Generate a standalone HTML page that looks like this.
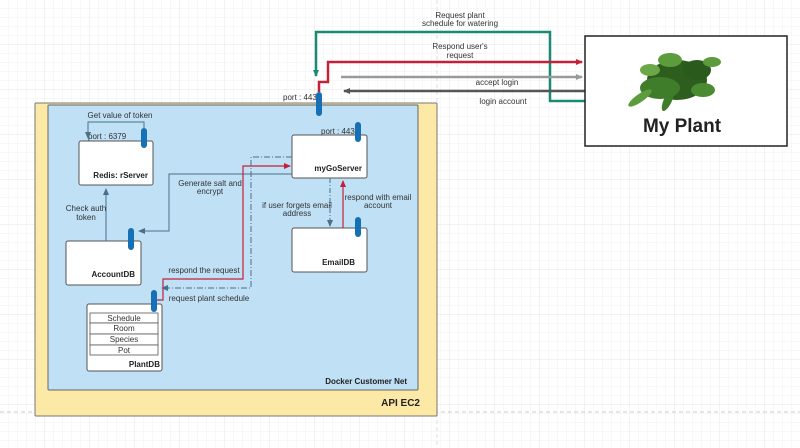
<!DOCTYPE html>
<html><head><meta charset="utf-8"><style>
html,body{margin:0;padding:0;background:#fff}
svg{display:block;font-family:"Liberation Sans",sans-serif}
.t{font-size:8px;fill:#333}
.b{font-size:8px;font-weight:bold;fill:#222}
</style></head><body>
<svg width="800" height="448" viewBox="0 0 800 448" xmlns="http://www.w3.org/2000/svg">
<defs>
<pattern id="g" width="9" height="9" patternUnits="userSpaceOnUse"><path d="M9 0V9H0" fill="none" stroke="#f2f2f2" stroke-width="1"/></pattern>
<pattern id="G" width="45" height="45" patternUnits="userSpaceOnUse"><path d="M45 0V45H0" fill="none" stroke="#e4e4e4" stroke-width="1"/></pattern>
<marker id="a" markerWidth="8" markerHeight="8" refX="6" refY="4" orient="auto" markerUnits="userSpaceOnUse"><path d="M0,1 L7,4 L0,7z" fill="context-stroke"/></marker>
</defs>
<rect width="800" height="448" fill="url(#g)"/>
<rect width="800" height="448" fill="url(#G)"/>
<line x1="0" y1="412" x2="800" y2="412" stroke="#ccc" stroke-dasharray="4,3"/>
<line x1="437" y1="0" x2="437" y2="448" stroke="#ddd" stroke-dasharray="4,3"/>

<rect x="35" y="103" width="402" height="313" fill="#fde9a6" stroke="#777" rx="1"/>
<rect x="48" y="105" width="370" height="285" fill="#bfe0f5" stroke="#666" rx="1"/>
<text x="420" y="406" class="b" text-anchor="end" style="font-size:10px">API EC2</text>
<text x="407" y="384" class="b" text-anchor="end">Docker Customer Net</text>

<rect x="79" y="141" width="74" height="44" fill="#fff" stroke="#555" rx="2"/>
<text x="148" y="178" class="b" text-anchor="end">Redis: rServer</text>
<text x="88" y="139" class="t">port : 6379</text>
<path d="M144,128 V122 H88 V138" fill="none" stroke="#4a6f86" stroke-width="1" marker-end="url(#a)"/>
<text x="120" y="118" class="t" text-anchor="middle">Get value of token</text>
<rect x="141" y="128" width="6" height="20" rx="3" fill="#1670b5"/>

<rect x="66" y="241" width="75" height="44" fill="#fff" stroke="#555" rx="2"/>
<text x="135" y="277" class="b" text-anchor="end">AccountDB</text>
<path d="M106,241 V189" fill="none" stroke="#4a6f86" stroke-width="1" marker-end="url(#a)"/>
<text x="86" y="211" class="t" text-anchor="middle">Check auth</text>
<text x="86" y="220" class="t" text-anchor="middle">token</text>
<rect x="128" y="228" width="6" height="22" rx="3" fill="#1670b5"/>

<rect x="292" y="135" width="75" height="43" fill="#fff" stroke="#555" rx="2"/>
<text x="362" y="171" class="b" text-anchor="end">myGoServer</text>
<text x="321" y="134" class="t">port : 443</text>
<rect x="355" y="122" width="6" height="20" rx="3" fill="#1670b5"/>
<path d="M292,174 H169 V231 H139" fill="none" stroke="#4a6f86" stroke-width="1" marker-end="url(#a)"/>
<text x="210" y="186" class="t" text-anchor="middle">Generate salt and</text>
<text x="210" y="194" class="t" text-anchor="middle">encrypt</text>

<rect x="292" y="228" width="75" height="44" fill="#fff" stroke="#555" rx="2"/>
<text x="355" y="265" class="b" text-anchor="end">EmailDB</text>
<rect x="355" y="217" width="6" height="20" rx="3" fill="#1670b5"/>
<path d="M330,178 V226" fill="none" stroke="#4a6f86" stroke-dasharray="5,2,1,2" marker-end="url(#a)"/>
<path d="M343,228 V181" fill="none" stroke="#c3213a" stroke-width="1.2" marker-end="url(#a)"/>
<text x="297" y="208" class="t" text-anchor="middle">if user forgets email</text>
<text x="297" y="216" class="t" text-anchor="middle">address</text>
<text x="378" y="200" class="t" text-anchor="middle">respond with email</text>
<text x="378" y="208" class="t" text-anchor="middle">account</text>

<rect x="87" y="304" width="75" height="67" fill="#fff" stroke="#555" rx="2"/>
<g fill="#fff" stroke="#555" stroke-width="0.8">
<rect x="90" y="313" width="68" height="10"/><rect x="90" y="323" width="68" height="11"/>
<rect x="90" y="334" width="68" height="11"/><rect x="90" y="345" width="68" height="10"/>
</g>
<g class="t" text-anchor="middle"><text x="124" y="321">Schedule</text><text x="124" y="331">Room</text><text x="124" y="342">Species</text><text x="124" y="353">Pot</text></g>
<text x="160" y="367" class="b" text-anchor="end">PlantDB</text>
<path d="M157,300 H163 V279 H243 V166 H290" fill="none" stroke="#c3213a" stroke-width="1.2" marker-end="url(#a)"/>
<path d="M292,157 H251 V288 H162" fill="none" stroke="#4a6f86" stroke-dasharray="6,2,1,2" marker-end="url(#a)"/>
<rect x="151" y="290" width="6" height="22" rx="3" fill="#1670b5"/>
<text x="204" y="273" class="t" text-anchor="middle">respond the request</text>
<text x="209" y="301" class="t" text-anchor="middle">request plant schedule</text>

<path d="M585,101 H550 V32 H316 V76" fill="none" stroke="#1a8a74" stroke-width="2.5" marker-end="url(#a)"/>
<path d="M319,92 V82 H328 V62 H582" fill="none" stroke="#c3213a" stroke-width="2.5" marker-end="url(#a)"/>
<path d="M341,77 H582" fill="none" stroke="#9a9a9a" stroke-width="2.5" marker-end="url(#a)"/>
<path d="M585,91 H344" fill="none" stroke="#555" stroke-width="2.5" marker-end="url(#a)"/>
<text x="460" y="18" class="t" text-anchor="middle">Request plant</text>
<text x="460" y="26" class="t" text-anchor="middle">schedule for watering</text>
<text x="460" y="49" class="t" text-anchor="middle">Respond user's</text>
<text x="460" y="58" class="t" text-anchor="middle">request</text>
<text x="497" y="85" class="t" text-anchor="middle">accept login</text>
<text x="503" y="104" class="t" text-anchor="middle">login account</text>
<text x="283" y="100" class="t">port : 443</text>
<rect x="316" y="92" width="6" height="24" rx="3" fill="#1670b5"/>

<rect x="585" y="36" width="202" height="110" fill="#fff" stroke="#222" stroke-width="1.5"/>
<g>
<ellipse cx="677" cy="80" rx="30" ry="20" fill="#2e5e1e"/>
<ellipse cx="660" cy="88" rx="20" ry="11" fill="#3f7d2a"/>
<ellipse cx="697" cy="70" rx="14" ry="10" fill="#2a5a1c"/>
<ellipse cx="640" cy="98" rx="14" ry="4" fill="#5c9c3c" transform="rotate(-35 640 98)"/>
<ellipse cx="703" cy="90" rx="12" ry="7" fill="#4a8a30"/>
<ellipse cx="670" cy="60" rx="12" ry="7" fill="#5c9c3c"/>
<ellipse cx="650" cy="70" rx="10" ry="6" fill="#6aa848"/>
<ellipse cx="712" cy="62" rx="9" ry="5" fill="#5c9c3c"/>
<ellipse cx="668" cy="100" rx="4" ry="12" fill="#3f7d2a" transform="rotate(25 668 100)"/>
</g>
<text x="682" y="132" text-anchor="middle" style="font-size:19px;font-weight:bold;fill:#222">My Plant</text>
</svg>
</body></html>
